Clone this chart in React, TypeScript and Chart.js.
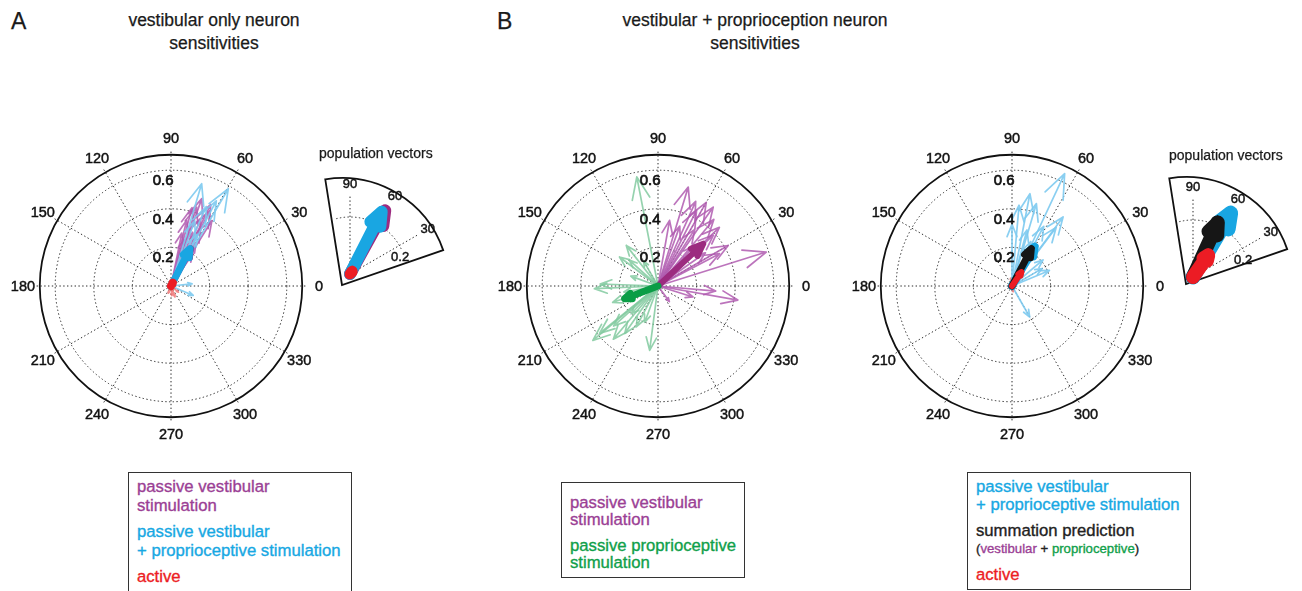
import React, { useEffect, useRef } from "react";
import { Chart, registerables } from "chart.js";
Chart.register(...registerables);

// ---------------- axis ticks ----------------
const ANGLE_TICKS = [0, 30, 60, 90, 120, 150, 180, 210, 240, 270, 300, 330];
const RADIUS_TICKS = [0.2, 0.4, 0.6];
const RADIUS_MAX = 0.68;
const INSET_ANGLE_TICKS = [30, 60, 90];
const INSET_RADIUS_TICKS = [0.2];

// ---------------- panel A : vestibular only ----------------
const A_VEST_ANGLES = [70.6, 72, 62.7, 76.6, 58, 78.5, 62.5, 66, 68, 74, 60, 65, 70, 56, 62, 67, 75, 64];
const A_VEST_MAGS = [0.48, 0.43, 0.44, 0.35, 0.4, 0.28, 0.33, 0.38, 0.3, 0.25, 0.26, 0.22, 0.18, 0.2, 0.15, 0.12, 0.42, 0.47];
const A_COMB_ANGLES = [73.3, 59.5, 66, 70, 63, 68, 337, 6, 62];
const A_COMB_MAGS = [0.553, 0.585, 0.45, 0.36, 0.3, 0.2, 0.125, 0.11, 0.5];
const A_ACT_ANGLES = [290, 275, 60, 320, 250];
const A_ACT_MAGS = [0.06, 0.05, 0.03, 0.05, 0.04];
// population vectors: vestibular, combined, active
const A_POP_ANGLES = [62, 63, 60];
const A_POP_MAGS = [0.22, 0.217, 0.02];
const A_INSET_ANGLES = [61, 63, 50];
const A_INSET_MAGS = [0.255, 0.245, 0.012];

// ---------------- panel B left : vestibular vs proprioceptive ----------------
const B_VEST_ANGLES = [73, 55, 60, 63, 43.7, 17.4, 350, 342.6, 306, 27.7, 70, 80, 42.6, 50, 66, 35, 57, 48, 30, 355];
const B_VEST_MAGS = [0.536, 0.499, 0.5, 0.44, 0.44, 0.588, 0.42, 0.19, 0.1, 0.36, 0.33, 0.345, 0.39, 0.45, 0.48, 0.3, 0.35, 0.28, 0.42, 0.3];
const B_PROP_ANGLES = [101, 262.6, 182.4, 178, 219.9, 219, 222, 242, 226, 128, 143, 138, 160, 200, 235, 230, 250, 190, 120];
const B_PROP_MAGS = [0.576, 0.336, 0.33, 0.3, 0.44, 0.39, 0.31, 0.24, 0.2, 0.267, 0.25, 0.2, 0.15, 0.25, 0.3, 0.36, 0.2, 0.18, 0.15];
// population vectors: vestibular, proprioceptive
const B_POP_ANGLES = [43, 200.8];
const B_POP_MAGS = [0.32, 0.185];

// ---------------- panel B right : combined / prediction / active ----------------
const C_COMB_ANGLES = [64.9, 79, 73.5, 53.5, 90, 53, 22.6, 299.7, 40, 75, 85, 62, 30, 67];
const C_COMB_MAGS = [0.643, 0.487, 0.445, 0.445, 0.32, 0.38, 0.21, 0.185, 0.21, 0.3, 0.42, 0.35, 0.18, 0.25];
const C_ACT_ANGLES = [60, 100, 70, 280, 50];
const C_ACT_MAGS = [0.06, 0.04, 0.08, 0.03, 0.05];
// population vectors: combined, summation prediction, active
const C_POP_ANGLES = [60, 62.6, 56];
const C_POP_MAGS = [0.235, 0.218, 0.087];
const C_INSET_ANGLES = [59.5, 65.5, 55];
const C_INSET_MAGS = [0.26, 0.21, 0.093];

// ---------------- colours ----------------
const MAG_TEXT = "#9b3f95";
const MAG_LIGHT = "rgba(176, 92, 176, 0.85)";
const MAG_DARK = "#9c2b80";
const BLUE_TEXT = "#17a8e3";
const BLUE_LIGHT = "rgba(125, 202, 240, 0.9)";
const BLUE_DARK = "#19a6e2";
const GREEN_TEXT = "#10a04a";
const GREEN_LIGHT = "rgba(130, 202, 160, 0.85)";
const GREEN_DARK = "#0b9d46";
const RED = "#ec1c24";
const RED_LIGHT = "rgba(240, 110, 110, 0.8)";
const BLACK = "#161616";

const FONT = "'Liberation Sans', Arial, Helvetica, sans-serif";
const TEXT_STROKE = "0.35px";

type Layer = { angles: number[]; mags: number[]; color: string; width: number };

function arrowPoints(angDeg: number, mag: number) {
  const t = (angDeg * Math.PI) / 180;
  const c = Math.cos(t);
  const s = Math.sin(t);
  const P = (a: number, b: number) => ({ x: a * c - b * s, y: a * s + b * c });
  return [P(0, 0), P(mag, 0), P(0.8 * mag, 0.08 * mag), P(mag, 0), P(0.8 * mag, -0.08 * mag)];
}

function buildDatasets(layers: Layer[]) {
  const bottomToTop: any[] = [];
  layers.forEach((L) => {
    L.angles.forEach((a, i) => {
      bottomToTop.push({
        data: arrowPoints(a, L.mags[i]),
        showLine: true,
        borderColor: L.color,
        backgroundColor: L.color,
        borderWidth: L.width,
        pointRadius: 0,
        pointHoverRadius: 0,
        fill: false,
        tension: 0,
        borderCapStyle: "round",
        borderJoinStyle: "round",
        clip: false,
      });
    });
  });
  return bottomToTop.reverse();
}

function boldText(ctx: any, s: string, x: number, y: number) {
  ctx.fillText(s, x, y);
  ctx.strokeText(s, x, y);
}

const mainGrid = {
  id: "mainGrid",
  beforeDatasetsDraw(chart: any) {
    const { ctx, scales } = chart;
    const x = scales.x;
    const y = scales.y;
    const cx = x.getPixelForValue(0);
    const cy = y.getPixelForValue(0);
    const rp = (r: number) => x.getPixelForValue(r) - cx;
    ctx.save();
    ctx.strokeStyle = "#2a2a2a";
    ctx.lineWidth = 1;
    ctx.setLineDash([1.4, 2.4]);
    RADIUS_TICKS.forEach((r) => {
      ctx.beginPath();
      ctx.arc(cx, cy, rp(r), 0, Math.PI * 2);
      ctx.stroke();
    });
    ANGLE_TICKS.forEach((a) => {
      const t = (a * Math.PI) / 180;
      const R = rp(RADIUS_MAX * 1.025);
      ctx.beginPath();
      ctx.moveTo(cx, cy);
      ctx.lineTo(cx + R * Math.cos(t), cy - R * Math.sin(t));
      ctx.stroke();
    });
    ctx.setLineDash([]);
    ctx.lineWidth = 1.8;
    ctx.strokeStyle = "#111";
    ctx.beginPath();
    ctx.arc(cx, cy, rp(RADIUS_MAX), 0, Math.PI * 2);
    ctx.stroke();
    ctx.restore();
  },
  afterDatasetsDraw(chart: any) {
    const { ctx, scales } = chart;
    const x = scales.x;
    const y = scales.y;
    const cx = x.getPixelForValue(0);
    const cy = y.getPixelForValue(0);
    const rp = (r: number) => x.getPixelForValue(r) - cx;
    ctx.save();
    ctx.fillStyle = "#111";
    ctx.strokeStyle = "#111";
    ctx.lineWidth = 0.45;
    ctx.textAlign = "center";
    ctx.textBaseline = "middle";
    ctx.font = `14.5px ${FONT}`;
    ANGLE_TICKS.forEach((a) => {
      const t = (a * Math.PI) / 180;
      const R = rp(0.767);
      boldText(ctx, String(a), cx + R * Math.cos(t), cy - R * Math.sin(t) + 1);
    });
    ctx.font = `15px ${FONT}`;
    ctx.textAlign = "right";
    ctx.lineWidth = 0.7;
    RADIUS_TICKS.forEach((r) => {
      boldText(ctx, r.toFixed(1), cx + 2.5, cy - rp(r - 0.05) + 1);
    });
    ctx.restore();
  },
};

function makeInsetGrid(frameDx: number, frameDy: number) {
  return {
    id: "insetGrid",
    beforeDatasetsDraw(chart: any) {
      const { ctx, scales } = chart;
      const x = scales.x;
      const y = scales.y;
      const cx = x.getPixelForValue(0);
      const cy = y.getPixelForValue(0);
      const rp = (r: number) => x.getPixelForValue(r) - cx;
      ctx.save();
      // frame
      const fx = cx + frameDx;
      const fy = cy + frameDy;
      const FR = 107;
      const a1 = (99 * Math.PI) / 180;
      const a2 = (19 * Math.PI) / 180;
      ctx.strokeStyle = "#111";
      ctx.lineWidth = 1.8;
      ctx.beginPath();
      ctx.moveTo(fx, fy);
      ctx.lineTo(fx + FR * Math.cos(a1), fy - FR * Math.sin(a1));
      ctx.arc(fx, fy, FR, -a1, -a2, false);
      ctx.closePath();
      ctx.stroke();
      // grid
      ctx.strokeStyle = "#2a2a2a";
      ctx.lineWidth = 1;
      ctx.setLineDash([1.4, 2.4]);
      INSET_ANGLE_TICKS.forEach((a) => {
        const t = (a * Math.PI) / 180;
        const R = rp(0.28);
        ctx.beginPath();
        ctx.moveTo(cx, cy);
        ctx.lineTo(cx + R * Math.cos(t), cy - R * Math.sin(t));
        ctx.stroke();
      });
      INSET_RADIUS_TICKS.forEach((r) => {
        ctx.beginPath();
        ctx.arc(cx, cy, rp(r), (-104 * Math.PI) / 180, (-24 * Math.PI) / 180, false);
        ctx.stroke();
      });
      ctx.setLineDash([]);
      ctx.fillStyle = "#111";
      ctx.strokeStyle = "#111";
      ctx.lineWidth = 0.45;
      ctx.font = `13px ${FONT}`;
      ctx.textAlign = "center";
      ctx.textBaseline = "middle";
      INSET_ANGLE_TICKS.forEach((a) => {
        const t = (a * Math.PI) / 180;
        const R = rp(0.315);
        boldText(ctx, String(a), cx + R * Math.cos(t), cy - R * Math.sin(t));
      });
      INSET_RADIUS_TICKS.forEach((r) => {
        const t = (18 * Math.PI) / 180;
        const R = rp(r - 0.015);
        boldText(ctx, r.toFixed(1), cx + R * Math.cos(t), cy - R * Math.sin(t));
      });
      ctx.restore();
    },
  };
}

type PolarProps = {
  left: number;
  top: number;
  width: number;
  height: number;
  originX: number;
  originY: number;
  ppu: number;
  layers: Layer[];
  inset?: { dx: number; dy: number };
};

function PolarPlot(p: PolarProps) {
  const ref = useRef<HTMLCanvasElement | null>(null);
  useEffect(() => {
    if (!ref.current) return;
    const plugin = p.inset ? makeInsetGrid(p.inset.dx, p.inset.dy) : mainGrid;
    const chart = new Chart(ref.current, {
      type: "scatter",
      data: { datasets: buildDatasets(p.layers) as any },
      options: {
        animation: false,
        responsive: false,
        maintainAspectRatio: false,
        events: [],
        devicePixelRatio: 1,
        layout: { padding: 0 },
        plugins: { legend: { display: false }, tooltip: { enabled: false }, title: { display: false } },
        scales: {
          x: { type: "linear", display: false, min: -p.originX / p.ppu, max: (p.width - p.originX) / p.ppu },
          y: { type: "linear", display: false, min: -(p.height - p.originY) / p.ppu, max: p.originY / p.ppu },
        },
      } as any,
      plugins: [plugin as any],
    });
    return () => chart.destroy();
  }, []);
  return (
    <canvas
      ref={ref}
      width={p.width}
      height={p.height}
      style={{ position: "absolute", left: p.left, top: p.top, width: p.width, height: p.height }}
    />
  );
}

type Part = { text: string; color: string };
type LegendLine = { y: number; parts: Part[]; size?: number };

function Legend({ left, top, width, height, lines }: { left: number; top: number; width: number; height: number; lines: LegendLine[] }) {
  return (
    <div>
      <div
        style={{
          position: "absolute",
          left,
          top,
          width,
          height,
          boxSizing: "border-box",
          border: "1.8px solid #333",
        }}
      />
      {lines.map((ln, i) => (
        <div
          key={i}
          style={{
            position: "absolute",
            left: left + 9,
            top: ln.y - 10,
            height: 20,
            lineHeight: "20px",
            fontSize: ln.size ?? 16.7,
            whiteSpace: "nowrap",
          }}
        >
          {ln.parts.map((pt, j) => (
            <span key={j} style={{ color: pt.color, WebkitTextStroke: `${TEXT_STROKE} ${pt.color}` } as any}>
              {pt.text}
            </span>
          ))}
        </div>
      ))}
    </div>
  );
}

function Label({ x, y, text, size, align = "center" }: { x: number; y: number; text: string; size: number; align?: string }) {
  const tx = align === "center" ? "translate(-50%, -50%)" : "translate(0, -50%)";
  return (
    <div
      style={{
        position: "absolute",
        left: x,
        top: y,
        transform: tx,
        fontSize: size,
        color: "#1a1a1a",
        whiteSpace: "nowrap",
        lineHeight: 1,
        WebkitTextStroke: `0.25px #1a1a1a`,
      } as any}
    >
      {text}
    </div>
  );
}

export default function App() {
  const MAIN = 340;
  const PPU = 193;
  const INS_PPU = 285;
  return (
    <div
      style={{
        position: "fixed",
        left: 0,
        top: 0,
        width: 1302,
        height: 591,
        overflow: "hidden",
        background: "#fff",
        fontFamily: FONT,
      }}
    >
      <Label x={11} y={21} text="A" size={23} align="left" />
      <Label x={497} y={21} text="B" size={23} align="left" />
      <Label x={214} y={21} text="vestibular only neuron" size={17.5} />
      <Label x={214} y={44} text="sensitivities" size={17.5} />
      <Label x={755} y={21} text="vestibular + proprioception neuron" size={17.5} />
      <Label x={755} y={44} text="sensitivities" size={17.5} />

      <PolarPlot
        left={171 - MAIN / 2}
        top={286 - MAIN / 2}
        width={MAIN}
        height={MAIN}
        originX={MAIN / 2}
        originY={MAIN / 2}
        ppu={PPU}
        layers={[
          { angles: A_VEST_ANGLES, mags: A_VEST_MAGS, color: MAG_LIGHT, width: 1.7 },
          { angles: A_COMB_ANGLES, mags: A_COMB_MAGS, color: BLUE_LIGHT, width: 1.7 },
          { angles: A_ACT_ANGLES, mags: A_ACT_MAGS, color: RED_LIGHT, width: 1.7 },
          { angles: [A_POP_ANGLES[0]], mags: [A_POP_MAGS[0]], color: MAG_DARK, width: 6 },
          { angles: [A_POP_ANGLES[1]], mags: [A_POP_MAGS[1]], color: BLUE_DARK, width: 7 },
          { angles: [A_POP_ANGLES[2]], mags: [A_POP_MAGS[2]], color: RED, width: 8 },
        ]}
      />
      <Label x={319} y={153} text="population vectors" size={14} align="left" />
      <PolarPlot
        left={350 - 30}
        top={274 - 120}
        width={150}
        height={150}
        originX={30}
        originY={120}
        ppu={INS_PPU}
        inset={{ dx: -8, dy: 11 }}
        layers={[
          { angles: [A_INSET_ANGLES[0]], mags: [A_INSET_MAGS[0]], color: MAG_DARK, width: 12 },
          { angles: [A_INSET_ANGLES[1]], mags: [A_INSET_MAGS[1]], color: BLUE_DARK, width: 12 },
          { angles: [A_INSET_ANGLES[2]], mags: [A_INSET_MAGS[2]], color: RED, width: 11 },
        ]}
      />

      <PolarPlot
        left={658 - MAIN / 2}
        top={286 - MAIN / 2}
        width={MAIN}
        height={MAIN}
        originX={MAIN / 2}
        originY={MAIN / 2}
        ppu={PPU}
        layers={[
          { angles: B_PROP_ANGLES, mags: B_PROP_MAGS, color: GREEN_LIGHT, width: 1.7 },
          { angles: B_VEST_ANGLES, mags: B_VEST_MAGS, color: MAG_LIGHT, width: 1.7 },
          { angles: [B_POP_ANGLES[0]], mags: [B_POP_MAGS[0]], color: MAG_DARK, width: 6 },
          { angles: [B_POP_ANGLES[1]], mags: [B_POP_MAGS[1]], color: GREEN_DARK, width: 7 },
        ]}
      />

      <PolarPlot
        left={1012 - MAIN / 2}
        top={286 - MAIN / 2}
        width={MAIN}
        height={MAIN}
        originX={MAIN / 2}
        originY={MAIN / 2}
        ppu={PPU}
        layers={[
          { angles: C_COMB_ANGLES, mags: C_COMB_MAGS, color: BLUE_LIGHT, width: 1.7 },
          { angles: C_ACT_ANGLES, mags: C_ACT_MAGS, color: RED_LIGHT, width: 1.7 },
          { angles: [C_POP_ANGLES[0]], mags: [C_POP_MAGS[0]], color: BLUE_DARK, width: 8 },
          { angles: [C_POP_ANGLES[1]], mags: [C_POP_MAGS[1]], color: BLACK, width: 7 },
          { angles: [C_POP_ANGLES[2]], mags: [C_POP_MAGS[2]], color: RED, width: 6 },
        ]}
      />
      <Label x={1169} y={155} text="population vectors" size={14} align="left" />
      <PolarPlot
        left={1193 - 30}
        top={277 - 120}
        width={150}
        height={150}
        originX={30}
        originY={120}
        ppu={INS_PPU}
        inset={{ dx: -7, dy: 7 }}
        layers={[
          { angles: [C_INSET_ANGLES[0]], mags: [C_INSET_MAGS[0]], color: BLUE_DARK, width: 15 },
          { angles: [C_INSET_ANGLES[1]], mags: [C_INSET_MAGS[1]], color: BLACK, width: 14 },
          { angles: [C_INSET_ANGLES[2]], mags: [C_INSET_MAGS[2]], color: RED, width: 14 },
        ]}
      />

      <Legend
        left={128}
        top={472}
        width={224}
        height={125}
        lines={[
          { y: 487, parts: [{ text: "passive vestibular", color: MAG_TEXT }] },
          { y: 505.5, parts: [{ text: "stimulation", color: MAG_TEXT }] },
          { y: 532, parts: [{ text: "passive vestibular", color: BLUE_TEXT }] },
          { y: 551, parts: [{ text: "+ proprioceptive stimulation", color: BLUE_TEXT }] },
          { y: 577, parts: [{ text: "active", color: RED }] },
        ]}
      />
      <Legend
        left={561}
        top={482}
        width={184}
        height={96}
        lines={[
          { y: 502.5, parts: [{ text: "passive vestibular", color: MAG_TEXT }] },
          { y: 519.5, parts: [{ text: "stimulation", color: MAG_TEXT }] },
          { y: 546, parts: [{ text: "passive proprioceptive", color: GREEN_TEXT }] },
          { y: 563, parts: [{ text: "stimulation", color: GREEN_TEXT }] },
        ]}
      />
      <Legend
        left={967}
        top={472}
        width={224}
        height={118}
        lines={[
          { y: 486.5, parts: [{ text: "passive vestibular", color: BLUE_TEXT }] },
          { y: 505, parts: [{ text: "+ proprioceptive stimulation", color: BLUE_TEXT }] },
          { y: 531, parts: [{ text: "summation prediction", color: "#222" }] },
          {
            y: 548.5,
            size: 13.2,
            parts: [
              { text: "(", color: "#222" },
              { text: "vestibular", color: MAG_TEXT },
              { text: " + ", color: "#222" },
              { text: "proprioceptive", color: GREEN_TEXT },
              { text: ")", color: "#222" },
            ],
          },
          { y: 575, parts: [{ text: "active", color: RED }] },
        ]}
      />
    </div>
  );
}
